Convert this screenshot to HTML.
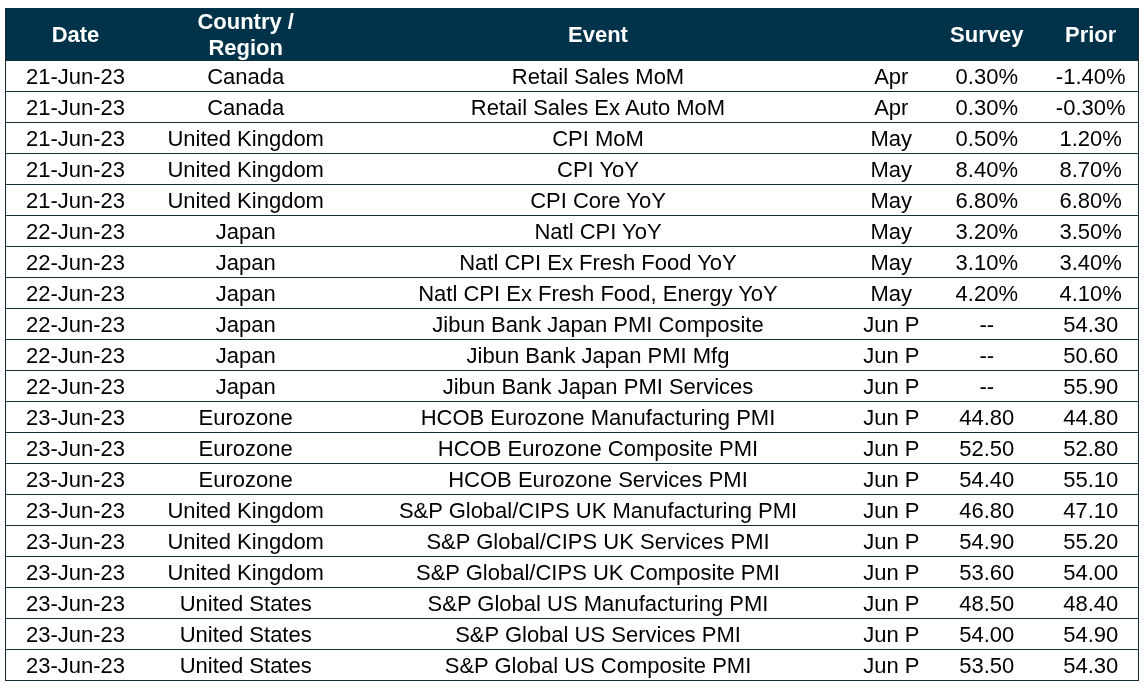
<!DOCTYPE html>
<html><head><meta charset="utf-8"><title>Economic Calendar</title>
<style>
html,body{margin:0;padding:0;background:#fff;}
body{width:1146px;height:688px;position:relative;overflow:hidden;will-change:transform;font-family:"Liberation Sans",Arial,sans-serif;}
.hd{position:absolute;left:5px;top:8px;width:1134px;height:53px;background:#003349;}
.h{position:absolute;top:0;height:53px;line-height:53px;text-align:center;color:#fff;font-weight:bold;font-size:22px;white-space:nowrap;}
.h2{display:flex;flex-direction:column;justify-content:center;line-height:26px;}
.r{position:absolute;left:5px;width:1134px;height:30px;border-bottom:1px solid #172e38;}
.c{position:absolute;top:1px;height:30px;line-height:30px;text-align:center;color:#000;font-size:22px;white-space:nowrap;}
.hb{position:absolute;left:5px;top:60px;width:1134px;height:1px;background:#172e38;}
.bl{position:absolute;left:5px;top:8px;width:1px;height:673px;background:#172e38;}
.br{position:absolute;left:1138px;top:8px;width:1px;height:673px;background:#172e38;}
</style></head><body>
<div class="hd">
<div class="h" style="left:0.50px;width:140px">Date</div>
<div class="h h2" style="left:140.70px;width:200px">Country /<br>Region</div>
<div class="h" style="left:333.00px;width:520px">Event</div>
<div class="h" style="left:931.80px;width:100px">Survey</div>
<div class="h" style="left:1035.70px;width:100px">Prior</div>
</div>
<div class="r" style="top:61px">
<div class="c" style="left:0.50px;width:140px">21-Jun-23</div>
<div class="c" style="left:140.70px;width:200px">Canada</div>
<div class="c" style="left:333.00px;width:520px">Retail Sales MoM</div>
<div class="c" style="left:846.30px;width:80px">Apr</div>
<div class="c" style="left:931.80px;width:100px">0.30%</div>
<div class="c" style="left:1035.70px;width:100px">-1.40%</div>
</div>
<div class="r" style="top:92px">
<div class="c" style="left:0.50px;width:140px">21-Jun-23</div>
<div class="c" style="left:140.70px;width:200px">Canada</div>
<div class="c" style="left:333.00px;width:520px">Retail Sales Ex Auto MoM</div>
<div class="c" style="left:846.30px;width:80px">Apr</div>
<div class="c" style="left:931.80px;width:100px">0.30%</div>
<div class="c" style="left:1035.70px;width:100px">-0.30%</div>
</div>
<div class="r" style="top:123px">
<div class="c" style="left:0.50px;width:140px">21-Jun-23</div>
<div class="c" style="left:140.70px;width:200px">United Kingdom</div>
<div class="c" style="left:333.00px;width:520px">CPI MoM</div>
<div class="c" style="left:846.30px;width:80px">May</div>
<div class="c" style="left:931.80px;width:100px">0.50%</div>
<div class="c" style="left:1035.70px;width:100px">1.20%</div>
</div>
<div class="r" style="top:154px">
<div class="c" style="left:0.50px;width:140px">21-Jun-23</div>
<div class="c" style="left:140.70px;width:200px">United Kingdom</div>
<div class="c" style="left:333.00px;width:520px">CPI YoY</div>
<div class="c" style="left:846.30px;width:80px">May</div>
<div class="c" style="left:931.80px;width:100px">8.40%</div>
<div class="c" style="left:1035.70px;width:100px">8.70%</div>
</div>
<div class="r" style="top:185px">
<div class="c" style="left:0.50px;width:140px">21-Jun-23</div>
<div class="c" style="left:140.70px;width:200px">United Kingdom</div>
<div class="c" style="left:333.00px;width:520px">CPI Core YoY</div>
<div class="c" style="left:846.30px;width:80px">May</div>
<div class="c" style="left:931.80px;width:100px">6.80%</div>
<div class="c" style="left:1035.70px;width:100px">6.80%</div>
</div>
<div class="r" style="top:216px">
<div class="c" style="left:0.50px;width:140px">22-Jun-23</div>
<div class="c" style="left:140.70px;width:200px">Japan</div>
<div class="c" style="left:333.00px;width:520px">Natl CPI YoY</div>
<div class="c" style="left:846.30px;width:80px">May</div>
<div class="c" style="left:931.80px;width:100px">3.20%</div>
<div class="c" style="left:1035.70px;width:100px">3.50%</div>
</div>
<div class="r" style="top:247px">
<div class="c" style="left:0.50px;width:140px">22-Jun-23</div>
<div class="c" style="left:140.70px;width:200px">Japan</div>
<div class="c" style="left:333.00px;width:520px">Natl CPI Ex Fresh Food YoY</div>
<div class="c" style="left:846.30px;width:80px">May</div>
<div class="c" style="left:931.80px;width:100px">3.10%</div>
<div class="c" style="left:1035.70px;width:100px">3.40%</div>
</div>
<div class="r" style="top:278px">
<div class="c" style="left:0.50px;width:140px">22-Jun-23</div>
<div class="c" style="left:140.70px;width:200px">Japan</div>
<div class="c" style="left:333.00px;width:520px">Natl CPI Ex Fresh Food, Energy YoY</div>
<div class="c" style="left:846.30px;width:80px">May</div>
<div class="c" style="left:931.80px;width:100px">4.20%</div>
<div class="c" style="left:1035.70px;width:100px">4.10%</div>
</div>
<div class="r" style="top:309px">
<div class="c" style="left:0.50px;width:140px">22-Jun-23</div>
<div class="c" style="left:140.70px;width:200px">Japan</div>
<div class="c" style="left:333.00px;width:520px">Jibun Bank Japan PMI Composite</div>
<div class="c" style="left:846.30px;width:80px">Jun P</div>
<div class="c" style="left:931.80px;width:100px">--</div>
<div class="c" style="left:1035.70px;width:100px">54.30</div>
</div>
<div class="r" style="top:340px">
<div class="c" style="left:0.50px;width:140px">22-Jun-23</div>
<div class="c" style="left:140.70px;width:200px">Japan</div>
<div class="c" style="left:333.00px;width:520px">Jibun Bank Japan PMI Mfg</div>
<div class="c" style="left:846.30px;width:80px">Jun P</div>
<div class="c" style="left:931.80px;width:100px">--</div>
<div class="c" style="left:1035.70px;width:100px">50.60</div>
</div>
<div class="r" style="top:371px">
<div class="c" style="left:0.50px;width:140px">22-Jun-23</div>
<div class="c" style="left:140.70px;width:200px">Japan</div>
<div class="c" style="left:333.00px;width:520px">Jibun Bank Japan PMI Services</div>
<div class="c" style="left:846.30px;width:80px">Jun P</div>
<div class="c" style="left:931.80px;width:100px">--</div>
<div class="c" style="left:1035.70px;width:100px">55.90</div>
</div>
<div class="r" style="top:402px">
<div class="c" style="left:0.50px;width:140px">23-Jun-23</div>
<div class="c" style="left:140.70px;width:200px">Eurozone</div>
<div class="c" style="left:333.00px;width:520px">HCOB Eurozone Manufacturing PMI</div>
<div class="c" style="left:846.30px;width:80px">Jun P</div>
<div class="c" style="left:931.80px;width:100px">44.80</div>
<div class="c" style="left:1035.70px;width:100px">44.80</div>
</div>
<div class="r" style="top:433px">
<div class="c" style="left:0.50px;width:140px">23-Jun-23</div>
<div class="c" style="left:140.70px;width:200px">Eurozone</div>
<div class="c" style="left:333.00px;width:520px">HCOB Eurozone Composite PMI</div>
<div class="c" style="left:846.30px;width:80px">Jun P</div>
<div class="c" style="left:931.80px;width:100px">52.50</div>
<div class="c" style="left:1035.70px;width:100px">52.80</div>
</div>
<div class="r" style="top:464px">
<div class="c" style="left:0.50px;width:140px">23-Jun-23</div>
<div class="c" style="left:140.70px;width:200px">Eurozone</div>
<div class="c" style="left:333.00px;width:520px">HCOB Eurozone Services PMI</div>
<div class="c" style="left:846.30px;width:80px">Jun P</div>
<div class="c" style="left:931.80px;width:100px">54.40</div>
<div class="c" style="left:1035.70px;width:100px">55.10</div>
</div>
<div class="r" style="top:495px">
<div class="c" style="left:0.50px;width:140px">23-Jun-23</div>
<div class="c" style="left:140.70px;width:200px">United Kingdom</div>
<div class="c" style="left:333.00px;width:520px">S&amp;P Global/CIPS UK Manufacturing PMI</div>
<div class="c" style="left:846.30px;width:80px">Jun P</div>
<div class="c" style="left:931.80px;width:100px">46.80</div>
<div class="c" style="left:1035.70px;width:100px">47.10</div>
</div>
<div class="r" style="top:526px">
<div class="c" style="left:0.50px;width:140px">23-Jun-23</div>
<div class="c" style="left:140.70px;width:200px">United Kingdom</div>
<div class="c" style="left:333.00px;width:520px">S&amp;P Global/CIPS UK Services PMI</div>
<div class="c" style="left:846.30px;width:80px">Jun P</div>
<div class="c" style="left:931.80px;width:100px">54.90</div>
<div class="c" style="left:1035.70px;width:100px">55.20</div>
</div>
<div class="r" style="top:557px">
<div class="c" style="left:0.50px;width:140px">23-Jun-23</div>
<div class="c" style="left:140.70px;width:200px">United Kingdom</div>
<div class="c" style="left:333.00px;width:520px">S&amp;P Global/CIPS UK Composite PMI</div>
<div class="c" style="left:846.30px;width:80px">Jun P</div>
<div class="c" style="left:931.80px;width:100px">53.60</div>
<div class="c" style="left:1035.70px;width:100px">54.00</div>
</div>
<div class="r" style="top:588px">
<div class="c" style="left:0.50px;width:140px">23-Jun-23</div>
<div class="c" style="left:140.70px;width:200px">United States</div>
<div class="c" style="left:333.00px;width:520px">S&amp;P Global US Manufacturing PMI</div>
<div class="c" style="left:846.30px;width:80px">Jun P</div>
<div class="c" style="left:931.80px;width:100px">48.50</div>
<div class="c" style="left:1035.70px;width:100px">48.40</div>
</div>
<div class="r" style="top:619px">
<div class="c" style="left:0.50px;width:140px">23-Jun-23</div>
<div class="c" style="left:140.70px;width:200px">United States</div>
<div class="c" style="left:333.00px;width:520px">S&amp;P Global US Services PMI</div>
<div class="c" style="left:846.30px;width:80px">Jun P</div>
<div class="c" style="left:931.80px;width:100px">54.00</div>
<div class="c" style="left:1035.70px;width:100px">54.90</div>
</div>
<div class="r" style="top:650px">
<div class="c" style="left:0.50px;width:140px">23-Jun-23</div>
<div class="c" style="left:140.70px;width:200px">United States</div>
<div class="c" style="left:333.00px;width:520px">S&amp;P Global US Composite PMI</div>
<div class="c" style="left:846.30px;width:80px">Jun P</div>
<div class="c" style="left:931.80px;width:100px">53.50</div>
<div class="c" style="left:1035.70px;width:100px">54.30</div>
</div>
<div class="hb"></div><div class="bl"></div><div class="br"></div>
</body></html>
